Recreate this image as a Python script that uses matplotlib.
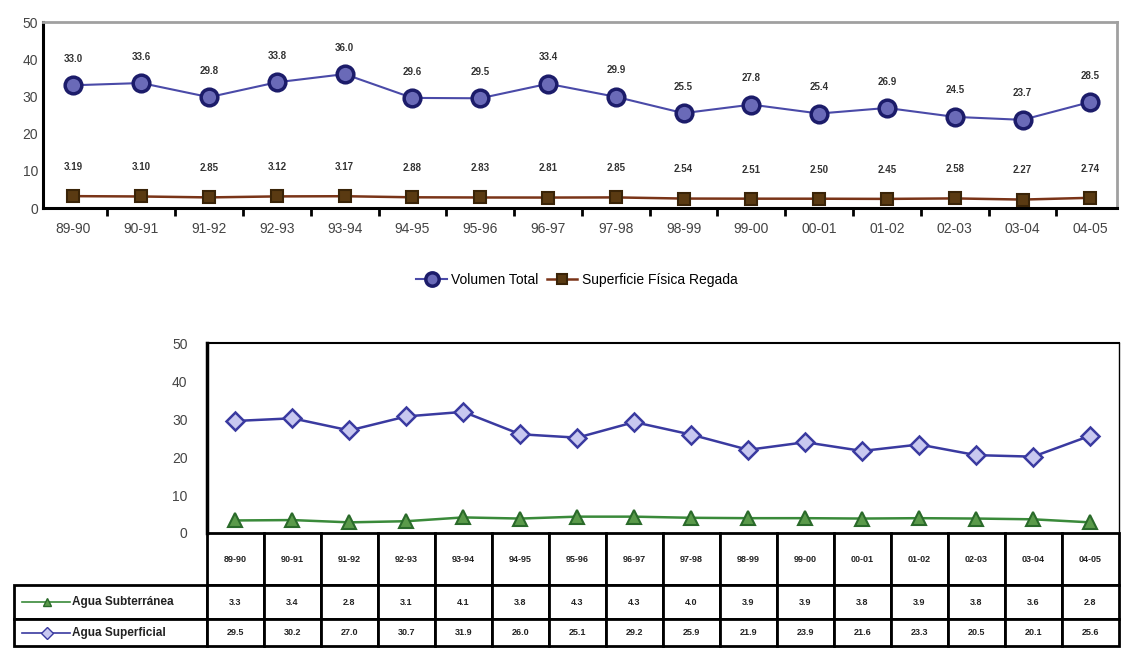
import numpy as np
import matplotlib.pyplot as plt
from matplotlib.lines import Line2D

plt.rcParams['font.family'] = ['Liberation Sans', 'DejaVu Sans']

years = ['89-90', '90-91', '91-92', '92-93', '93-94', '94-95', '95-96', '96-97',
         '97-98', '98-99', '99-00', '00-01', '01-02', '02-03', '03-04', '04-05']
vol_total = [33.0, 33.6, 29.8, 33.8, 36.0, 29.6, 29.5, 33.4,
             29.9, 25.5, 27.8, 25.4, 26.9, 24.5, 23.7, 28.5]
sup_regada = [3.19, 3.10, 2.85, 3.12, 3.17, 2.88, 2.83, 2.81,
              2.85, 2.54, 2.51, 2.50, 2.45, 2.58, 2.27, 2.74]
agua_subt = [3.3, 3.4, 2.8, 3.1, 4.1, 3.8, 4.3, 4.3,
             4.0, 3.9, 3.9, 3.8, 3.9, 3.8, 3.6, 2.8]
agua_sup = [29.5, 30.2, 27.0, 30.7, 31.9, 26.0, 25.1, 29.2,
            25.9, 21.9, 23.9, 21.6, 23.3, 20.5, 20.1, 25.6]
row_labels = ['Agua Subterránea', 'Agua Superficial']

x = np.arange(len(years))

fig = plt.figure(figsize=(11.31, 6.48), dpi=100)

# top chart
ax1 = fig.add_axes([0.038, 0.679, 0.950, 0.287])
ax1.plot(x, vol_total, color='#4a4aa8', lw=1.5, marker='o', ms=12,
         mfc='#6a6ab8', mec='#1c1c6a', mew=2.5, label='Volumen Total', zorder=3)
ax1.plot(x, sup_regada, color='#7a3418', lw=1.8, marker='s', ms=9,
         mfc='#5a3a12', mec='#3a2408', mew=1.5, label='Superficie Física Regada', zorder=3)
for xi, v in zip(x, vol_total):
    ax1.annotate('%.1f' % v, (xi, v), xytext=(0, 19), textcoords='offset points',
                 ha='center', va='center', fontsize=7, fontweight='bold', color='#333333')
for xi, v in zip(x, sup_regada):
    ax1.annotate('%.2f' % v, (xi, v), xytext=(0, 21), textcoords='offset points',
                 ha='center', va='center', fontsize=7, fontweight='bold', color='#333333')
ax1.set_xlim(-0.45, 15.4)
ax1.set_ylim(0, 50)
ax1.set_yticks(range(0, 51, 10))
ax1.set_xticks(x)
ax1.set_xticklabels(years, fontsize=10, color='#444444')
ax1.set_xticks(np.arange(0.5, 15.5, 1), minor=True)
ax1.tick_params(axis='x', which='major', length=0, pad=10)
ax1.tick_params(axis='x', which='minor', length=6, width=2, direction='out')
ax1.tick_params(axis='y', length=0, labelsize=10, labelcolor='#444444')
for s in ['left', 'bottom']:
    ax1.spines[s].set_linewidth(2.2)
    ax1.spines[s].set_color('black')
for s in ['top', 'right']:
    ax1.spines[s].set_linewidth(2)
    ax1.spines[s].set_color('#a0a0a0')

fig.legend(handles=ax1.get_lines(), loc='center', bbox_to_anchor=(0.51, 0.568),
           ncol=2, frameon=False, fontsize=10, handlelength=2.2, columnspacing=0.6,
           handletextpad=0.3, markerscale=0.8)

# bottom chart with table
ax2 = fig.add_axes([0.183, 0.1775, 0.806, 0.293])
ax2.plot(x, agua_subt, color='#3a8a3a', lw=1.8, marker='^', ms=10,
         mfc='#5a9a4a', mec='#2a6a2a', mew=1.5, zorder=3)
ax2.plot(x, agua_sup, color='#3a3aa0', lw=1.8, marker='D', ms=9,
         mfc='#c8c8f0', mec='#3a3aa0', mew=1.8, zorder=3)
ax2.set_xlim(-0.5, 15.5)
ax2.set_ylim(0, 50)
ax2.set_yticks(range(0, 51, 10))
ax2.set_xticks([])
ax2.tick_params(axis='y', length=0, labelsize=10, labelcolor='#444444', pad=14)
ax2.spines['left'].set_linewidth(2.5)
ax2.spines['top'].set_linewidth(1.5)
ax2.spines['right'].set_linewidth(1)
ax2.spines['bottom'].set_visible(False)

cell_text = [['%.1f' % v for v in agua_subt], ['%.1f' % v for v in agua_sup]]
label_w = 0.212
heights = {0: 0.275, 1: 0.18, 2: 0.14}
tbl_h = sum(heights.values())
tbl = ax2.table(cellText=cell_text, colLabels=years,
                colWidths=[1 / 16] * 16, cellLoc='center',
                bbox=[0, -tbl_h, 1, tbl_h])
for r, lab in enumerate(row_labels, start=1):
    tbl.add_cell(r, -1, width=label_w, height=heights[r], text=lab, loc='left')
tbl.auto_set_font_size(False)
for (r, c), cell in tbl.get_celld().items():
    cell.set_linewidth(2)
    cell.set_edgecolor('black')
    cell.set_height(heights[r])
    cell.get_text().set_fontsize(6.5)
    cell.get_text().set_fontweight('bold')
    cell.get_text().set_color('#222222')
    if c == -1:
        cell.PAD = 0.3
        cell.get_text().set_fontsize(8.5)

# line samples inside the row label cells
y_rows = [-heights[0] - heights[1] / 2, -heights[0] - heights[1] - heights[2] / 2]
samples = [dict(color='#3a8a3a', marker='^', mfc='#5a9a4a', mec='#2a6a2a'),
           dict(color='#3a3aa0', marker='D', mfc='#c8c8f0', mec='#3a3aa0')]
for yy, st in zip(y_rows, samples):
    ax2.add_line(Line2D([-0.203, -0.176, -0.15], [yy, yy, yy], transform=ax2.transAxes,
                        clip_on=False, lw=1.2, ms=6, markevery=[1], **st))

fig.savefig('out.png', dpi=100)
